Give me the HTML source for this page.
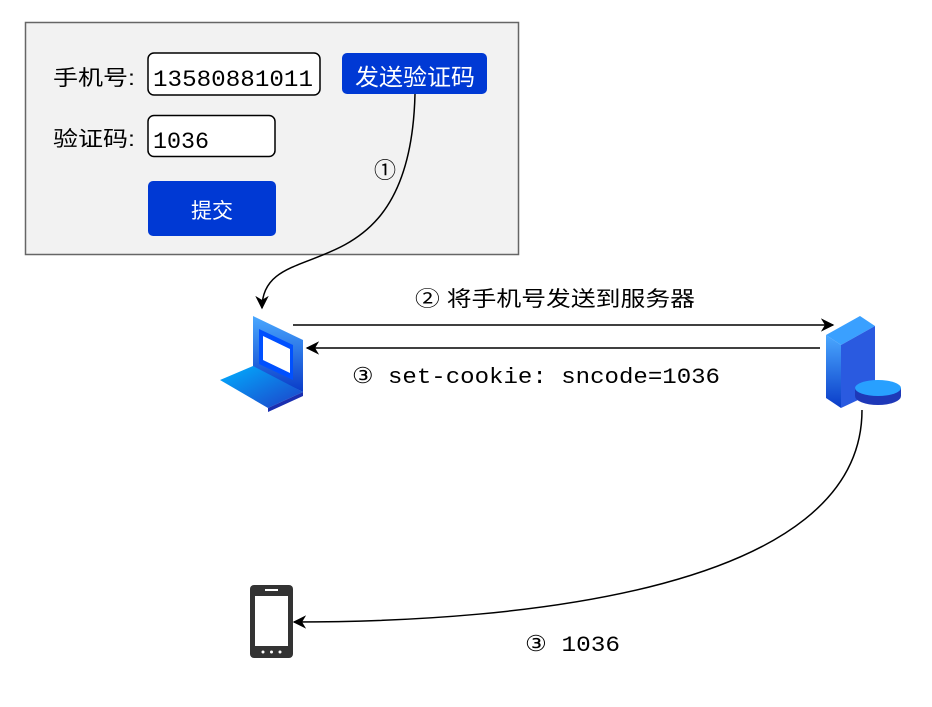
<!DOCTYPE html>
<html><head><meta charset="utf-8"><style>
body{margin:0;background:#fff}
svg text{font-family:"Liberation Sans","Noto Sans CJK SC",sans-serif}
.mono{font-family:"Liberation Mono","DejaVu Sans Mono",monospace}
</style></head><body>
<svg width="932" height="702" viewBox="0 0 932 702" xmlns="http://www.w3.org/2000/svg">
<defs>
<marker id="a" viewBox="0 0 10 10" refX="9" refY="5" markerWidth="9" markerHeight="9" orient="auto"><path d="M0,0 L10,5 L0,10 L3,5z" fill="#000"/></marker>
<linearGradient id="g1" x1="0" y1="0" x2="0" y2="1"><stop offset="0" stop-color="#4aa8ff"/><stop offset="1" stop-color="#0a3cc8"/></linearGradient>
<linearGradient id="g2" x1="0" y1="0" x2="1" y2="1"><stop offset="0" stop-color="#00b0ff"/><stop offset="1" stop-color="#1e40c8"/></linearGradient>
</defs>
<rect x="25.5" y="22.5" width="493" height="232" fill="#f2f2f2" stroke="#666" stroke-width="1.5"/>
<text x="53" y="85" font-size="21" textLength="82" lengthAdjust="spacingAndGlyphs">手机号:</text>
<text x="53" y="146" font-size="21" textLength="82" lengthAdjust="spacingAndGlyphs">验证码:</text>
<rect x="148" y="53" width="172" height="42" rx="6" fill="#fff" stroke="#000" stroke-width="1.5"/>
<text x="153" y="86" font-size="23" class="mono" textLength="160" lengthAdjust="spacingAndGlyphs">13580881011</text>
<rect x="148" y="115.5" width="127" height="41" rx="6" fill="#fff" stroke="#000" stroke-width="1.5"/>
<text x="153" y="148" font-size="23" class="mono" textLength="56" lengthAdjust="spacingAndGlyphs">1036</text>
<rect x="342" y="53" width="145" height="41" rx="5" fill="#0039d4"/>
<text x="355" y="85" font-size="23" fill="#fff" textLength="120" lengthAdjust="spacingAndGlyphs">发送验证码</text>
<rect x="148" y="181" width="128" height="55" rx="5" fill="#0039d4"/>
<text x="212" y="218" font-size="21" fill="#fff" text-anchor="middle">提交</text>
<text x="385" y="178" font-size="22" text-anchor="middle">①</text>
<path d="M415,94 C410,300 262,230 262,308" fill="none" stroke="#000" stroke-width="1.5" marker-end="url(#a)"/>
<line x1="293" y1="325" x2="833" y2="325" stroke="#000" stroke-width="1.5" marker-end="url(#a)"/>
<line x1="820" y1="348" x2="307" y2="348" stroke="#000" stroke-width="1.5" marker-end="url(#a)"/>
<text x="415" y="306" font-size="21" textLength="280" lengthAdjust="spacingAndGlyphs">② 将手机号发送到服务器</text>
<text x="352" y="383" font-size="22" class="mono" textLength="368" lengthAdjust="spacingAndGlyphs">③ set-cookie: sncode=1036</text>
<path d="M862,410 C862,590 520,622 294,622" fill="none" stroke="#000" stroke-width="1.5" marker-end="url(#a)"/>
<text x="525" y="651" font-size="22" class="mono" textLength="95" lengthAdjust="spacingAndGlyphs">③ 1036</text>
<!-- laptop -->
<polygon points="253,316 303,340 303,392 253,368" fill="url(#g1)"/>
<polygon points="259,329 293,345 293,380 259,364" fill="#0050ff"/>
<polygon points="263,336 290,349 290,373 263,360" fill="#fff"/>
<polygon points="220,380 253,366 303,392 268,408" fill="url(#g2)"/>
<polygon points="268,408 303,392 303,396 268,412" fill="#1a2fb0"/>
<!-- server -->
<polygon points="826,335 860,316 875,326 841,345" fill="#3aa0ff"/>
<polygon points="826,335 841,345 841,408 826,398" fill="url(#g1)"/>
<polygon points="841,345 875,326 875,392 841,408" fill="#2a5ae0"/>
<ellipse cx="878" cy="396" rx="23" ry="9" fill="#1e38b8"/>
<rect x="855" y="388" width="46" height="8" fill="#1e38b8"/>
<ellipse cx="878" cy="388" rx="23" ry="8" fill="#28a0ff"/>
<!-- phone -->
<rect x="250" y="585" width="43" height="73" rx="4" fill="#333"/>
<rect x="255" y="596" width="33" height="50" fill="#fff"/>
<rect x="265" y="589" width="13" height="2" fill="#fff"/>
<circle cx="263" cy="652" r="1.5" fill="#fff"/><circle cx="271.5" cy="652" r="1.5" fill="#fff"/><circle cx="280" cy="652" r="1.5" fill="#fff"/>
</svg>
</body></html>
